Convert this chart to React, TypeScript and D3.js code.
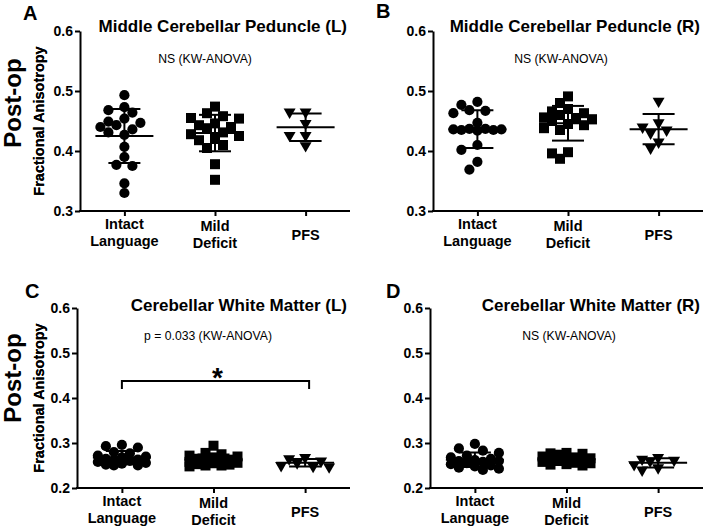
import React, { useEffect, useRef } from 'react';
import * as d3 from 'd3';

const categories = ['Intact Language', 'Mild Deficit', 'PFS'];
const categoryLines = [['Intact', 'Language'], ['Mild', 'Deficit'], ['PFS']];

// A - Middle Cerebellar Peduncle (L)
const mcpLeftIntact = [0.493, 0.473, 0.468, 0.464, 0.454, 0.449, 0.447, 0.443, 0.44, 0.436, 0.431, 0.427, 0.407, 0.39, 0.377, 0.375, 0.346, 0.33];
const mcpLeftMild = [0.474, 0.463, 0.458, 0.455, 0.454, 0.446, 0.443, 0.44, 0.438, 0.431, 0.428, 0.425, 0.42, 0.418, 0.41, 0.405, 0.378, 0.352];
const mcpLeftPfs = [0.465, 0.465, 0.446, 0.426, 0.426, 0.409];

// B - Middle Cerebellar Peduncle (R)
const mcpRightIntact = [0.482, 0.477, 0.468, 0.467, 0.463, 0.447, 0.437, 0.437, 0.436, 0.436, 0.435, 0.435, 0.434, 0.41, 0.402, 0.382, 0.369];
const mcpRightMild = [0.491, 0.48, 0.47, 0.466, 0.463, 0.46, 0.456, 0.455, 0.453, 0.45, 0.445, 0.443, 0.438, 0.435, 0.398, 0.396, 0.387];
const mcpRightPfs = [0.483, 0.447, 0.44, 0.435, 0.43, 0.415, 0.405];

// C - Cerebellar White Matter (L)
const cwmLeftIntact = [0.296, 0.293, 0.29, 0.28, 0.277, 0.272, 0.27, 0.268, 0.265, 0.263, 0.262, 0.26, 0.258, 0.256, 0.254, 0.252, 0.25, 0.25];
const cwmLeftMild = [0.294, 0.278, 0.275, 0.272, 0.27, 0.268, 0.265, 0.263, 0.262, 0.26, 0.258, 0.256, 0.255, 0.253, 0.252, 0.25, 0.25, 0.248];
const cwmLeftPfs = [0.268, 0.265, 0.26, 0.256, 0.25, 0.248, 0.247];

// D - Cerebellar White Matter (R)
const cwmRightIntact = [0.298, 0.288, 0.283, 0.278, 0.272, 0.268, 0.265, 0.262, 0.26, 0.26, 0.258, 0.255, 0.253, 0.25, 0.248, 0.245, 0.243, 0.24];
const cwmRightMild = [0.278, 0.277, 0.276, 0.274, 0.27, 0.268, 0.266, 0.265, 0.264, 0.262, 0.26, 0.258, 0.256, 0.255, 0.253, 0.252, 0.25];
const cwmRightPfs = [0.268, 0.264, 0.262, 0.26, 0.252, 0.245, 0.24];

const panelLetters = ['A', 'B', 'C', 'D'];
const panelTitles = [
  'Middle Cerebellar Peduncle (L)',
  'Middle Cerebellar Peduncle (R)',
  'Cerebellar White Matter (L)',
  'Cerebellar White Matter (R)',
];
const statLabels = ['NS (KW-ANOVA)', 'NS (KW-ANOVA)', 'p = 0.033 (KW-ANOVA)', 'NS (KW-ANOVA)'];
const yTicksMcp = [0.3, 0.4, 0.5, 0.6];
const yTicksCwm = [0.2, 0.3, 0.4, 0.5, 0.6];
const yLabel = 'Fractional Anisotropy';
const rowLabel = 'Post-op';

const panelData = [
  [mcpLeftIntact, mcpLeftMild, mcpLeftPfs],
  [mcpRightIntact, mcpRightMild, mcpRightPfs],
  [cwmLeftIntact, cwmLeftMild, cwmLeftPfs],
  [cwmRightIntact, cwmRightMild, cwmRightPfs],
];

// layout only
const layout = [
  { left: 80, right: 350, top: 31, bottom: 211, ticks: yTicksMcp, letter: [23, 20], titleY: 32, statY: 63, statX: 205, rowLabelY: 103 },
  { left: 433, right: 703, top: 31, bottom: 211, ticks: yTicksMcp, letter: [376, 18], titleY: 32, statY: 63, statX: 561, rowLabelY: null },
  { left: 77, right: 350, top: 308, bottom: 488, ticks: yTicksCwm, letter: [25, 298], titleY: 311, statY: 340, statX: 208, rowLabelY: 378 },
  { left: 430, right: 703, top: 308, bottom: 488, ticks: yTicksCwm, letter: [386, 298], titleY: 311, statY: 340, statX: 569, rowLabelY: null },
];

const FONT = '"Liberation Sans", Arial, sans-serif';

// simple column-scatter placement (like GraphPad): spread overlapping points sideways
function swarm(ys: number[], step = 8, slots = 3, minDist = 9.5) {
  const order = ys.map((y, i) => i).sort((a, b) => ys[a] - ys[b]);
  const offsets = [0];
  for (let k = 1; k <= slots; k++) offsets.push(-k * step, k * step);
  const placed: { x: number; y: number }[] = [];
  const out = new Array(ys.length).fill(0);
  order.forEach(i => {
    const y = ys[i];
    let best = 0, bestScore = -1;
    for (const o of offsets) {
      const d = placed.length ? d3.min(placed, p => Math.hypot(p.x - o, p.y - y))! : Infinity;
      if (d >= minDist) { best = o; bestScore = Infinity; break; }
      if (d > bestScore) { bestScore = d; best = o; }
    }
    placed.push({ x: best, y });
    out[i] = best;
  });
  return out;
}

const App = () => {
  const svgRef = useRef<SVGSVGElement>(null);

  useEffect(() => {
    const svg = d3.select(svgRef.current);
    svg.selectAll('*').remove();

    const symbolTypes = [d3.symbolCircle, d3.symbolSquare, d3.symbolTriangle];
    const symbolSizes = [82, 100, 62];

    layout.forEach((L, pi) => {
      const g = svg.append('g');
      const ticks = L.ticks;

      const y = d3.scaleLinear().domain([ticks[0], ticks[ticks.length - 1]]).range([L.bottom, L.top]);
      const x = d3.scalePoint<string>().domain(categories).range([L.left, L.right]).padding(0.49);

      // axes
      const yAxis = g.append('g')
        .attr('transform', `translate(${L.left},0)`)
        .call(d3.axisLeft(y).tickValues(ticks).tickSize(5).tickSizeOuter(0).tickPadding(2).tickFormat(d3.format('.1f')));
      yAxis.selectAll('path, line').attr('stroke', '#000').attr('stroke-width', 2);
      yAxis.selectAll('text').attr('fill', '#000').style('font-family', FONT).style('font-size', '14px').style('font-weight', 'bold');

      const xAxis = g.append('g')
        .attr('transform', `translate(0,${L.bottom})`)
        .call(d3.axisBottom(x).tickSize(5).tickSizeOuter(0).tickFormat(() => ''));
      xAxis.select('.domain').attr('d', `M${L.left - 1},0H${L.right}`);
      xAxis.selectAll('path, line').attr('stroke', '#000').attr('stroke-width', 2);

      // category labels
      categories.forEach((c, ci) => {
        const lines = categoryLines[ci];
        const t = g.append('text')
          .attr('text-anchor', 'middle')
          .style('font-family', FONT).style('font-size', '14.5px').style('font-weight', 'bold');
        if (lines.length === 1) {
          t.append('tspan').attr('x', x(c)!).attr('y', L.bottom + 29).text(lines[0]);
        } else {
          const base = ci === 0 ? 18 : 20;
          lines.forEach((ln, li) => {
            t.append('tspan').attr('x', x(c)!).attr('y', L.bottom + base + li * 17).text(ln);
          });
        }
      });

      // y label
      g.append('text')
        .attr('transform', `translate(44,${(L.top + L.bottom) / 2}) rotate(-90)`)
        .attr('text-anchor', 'middle')
        .style('font-family', FONT).style('font-size', '14.5px').style('font-weight', 'bold')
        .text(yLabel);

      if (L.rowLabelY !== null) {
        g.append('text')
          .attr('transform', `translate(21,${L.rowLabelY}) rotate(-90)`)
          .attr('text-anchor', 'middle')
          .style('font-family', FONT).style('font-size', '24px').style('font-weight', 'bold')
          .text(rowLabel);
      }

      // letter, title, stat
      g.append('text')
        .attr('x', L.letter[0]).attr('y', L.letter[1])
        .style('font-family', FONT).style('font-size', '20px').style('font-weight', 'bold')
        .text(panelLetters[pi]);

      g.append('text')
        .attr('x', L.right - 3).attr('y', L.titleY)
        .attr('text-anchor', 'end')
        .style('font-family', FONT).style('font-size', '17px').style('font-weight', 'bold')
        .text(panelTitles[pi]);

      g.append('text')
        .attr('x', L.statX).attr('y', L.statY)
        .attr('text-anchor', 'middle')
        .style('font-family', FONT).style('font-size', '12.2px')
        .text(statLabels[pi]);

      // points
      panelData[pi].forEach((vals, ci) => {
        const cx = x(categories[ci])!;
        const ys = vals.map(v => y(v));
        const offs = swarm(ys);
        const sym = d3.symbol().type(symbolTypes[ci]).size(symbolSizes[ci]);
        g.append('g').selectAll('path')
          .data(vals)
          .enter().append('path')
          .attr('d', sym()!)
          .attr('fill', '#000')
          .attr('transform', (d, i) => `translate(${cx + offs[i]},${ys[i]})${ci === 2 ? ' rotate(180)' : ''}`);
      });

      // mean +/- SD
      panelData[pi].forEach((vals, ci) => {
        const cx = x(categories[ci])!;
        const m = d3.mean(vals)!;
        const sd = d3.deviation(vals)!;
        const eb = g.append('g').attr('stroke', '#000').attr('stroke-width', 2);
        eb.append('line').attr('x1', cx - 29).attr('x2', cx + 29).attr('y1', y(m)).attr('y2', y(m));
        eb.append('line').attr('x1', cx).attr('x2', cx).attr('y1', y(m - sd)).attr('y2', y(m + sd));
        eb.append('line').attr('x1', cx - 16).attr('x2', cx + 16).attr('y1', y(m + sd)).attr('y2', y(m + sd));
        eb.append('line').attr('x1', cx - 16).attr('x2', cx + 16).attr('y1', y(m - sd)).attr('y2', y(m - sd));
      });

      // significance bracket (panel C)
      if (pi === 2) {
        const x1 = x(categories[0])!;
        const x2 = x(categories[2])! + 4;
        g.append('path')
          .attr('d', `M${x1},389V381H${x2}V389`)
          .attr('fill', 'none').attr('stroke', '#000').attr('stroke-width', 2);
        g.append('text')
          .attr('x', (x1 + x2) / 2 + 2).attr('y', 387)
          .attr('text-anchor', 'middle')
          .style('font-family', FONT).style('font-size', '28px').style('font-weight', 'bold')
          .text('*');
      }
    });
  }, []);

  return (
    <svg ref={svgRef} width={706} height={528}
      style={{ position: 'absolute', left: 0, top: 0, background: '#fff' }} />
  );
};

export default App;
